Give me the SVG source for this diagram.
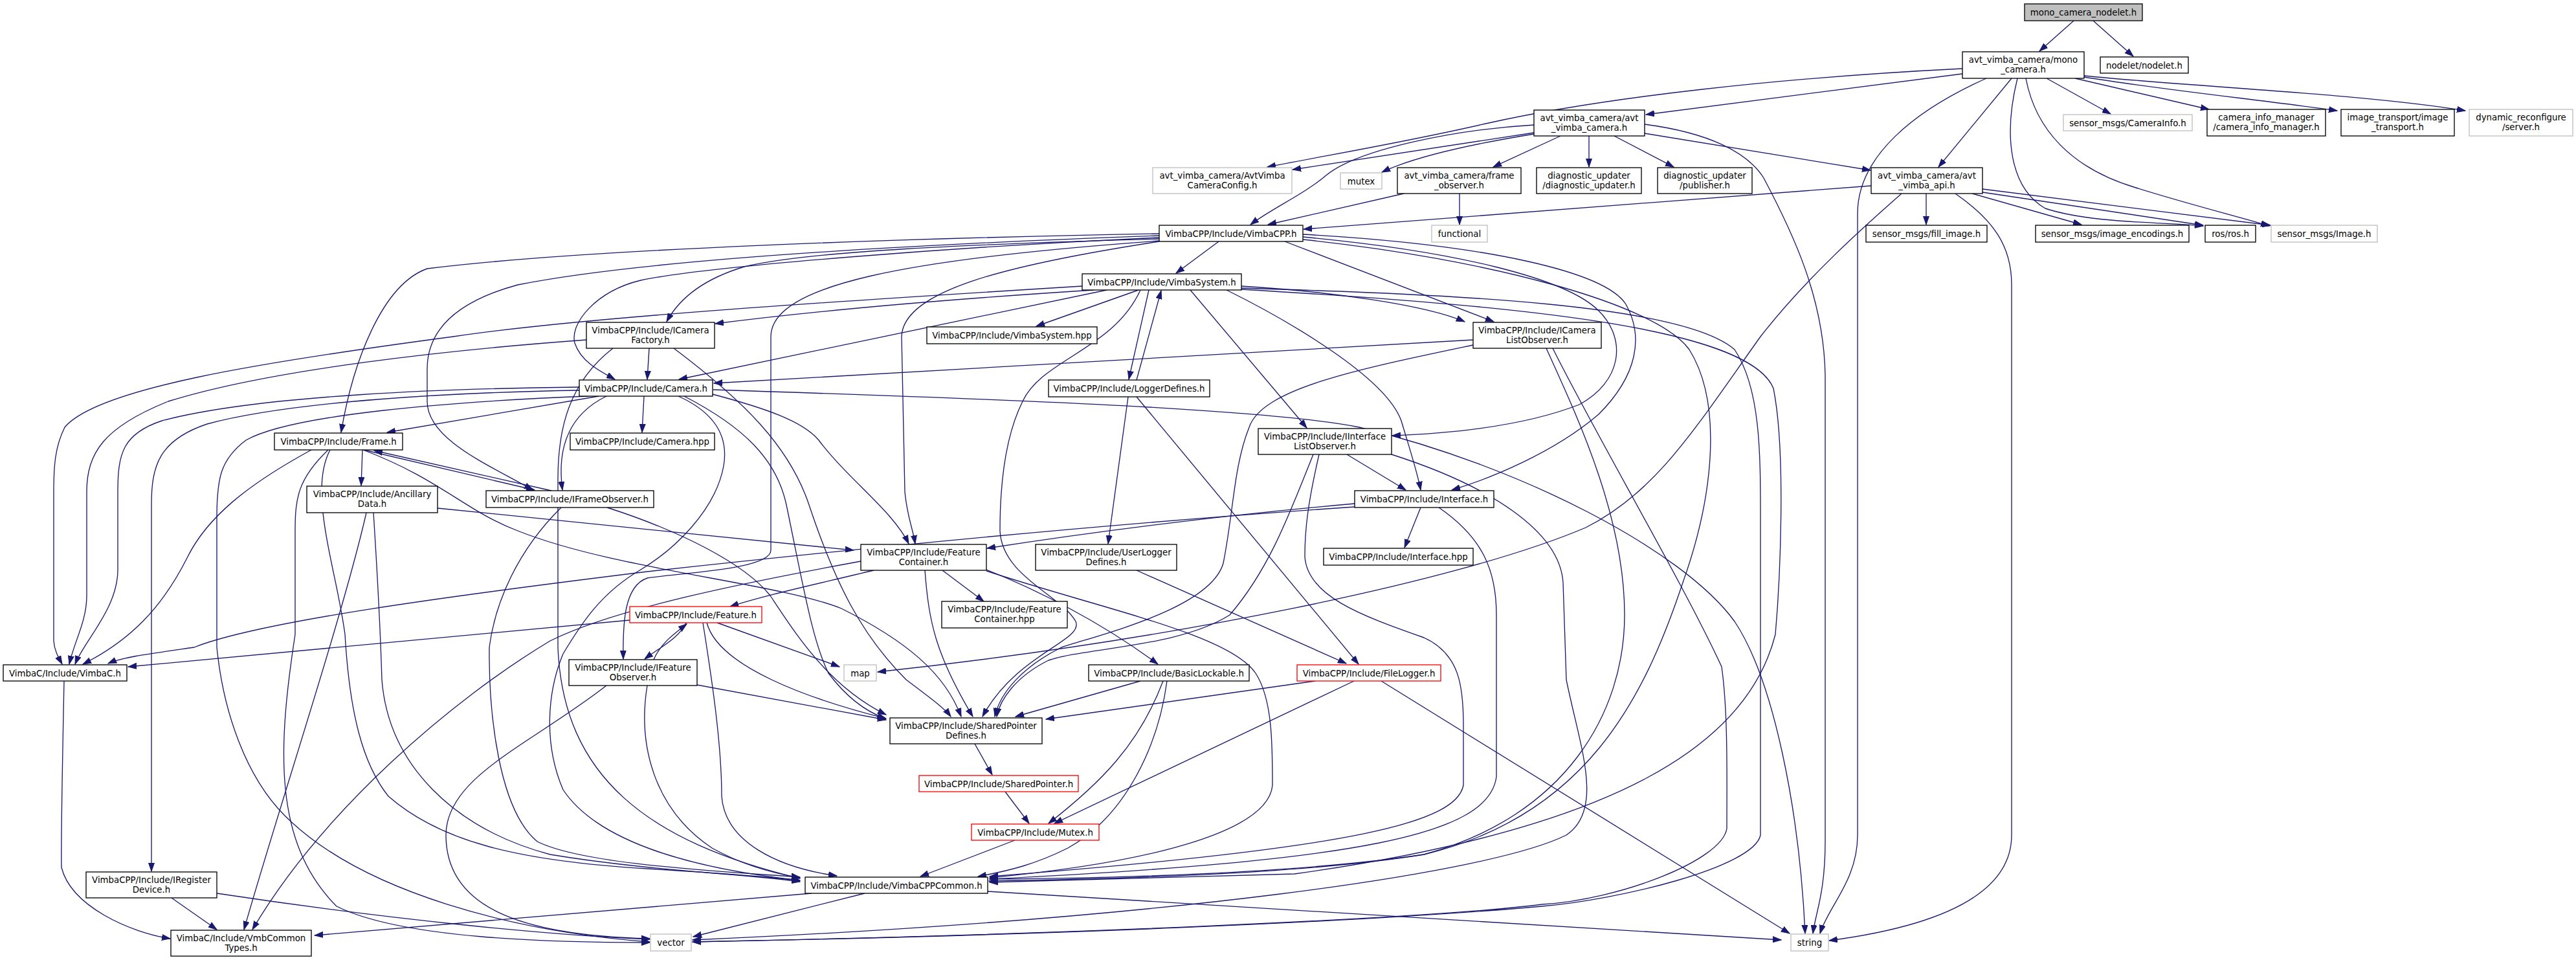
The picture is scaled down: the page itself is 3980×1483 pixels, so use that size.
<svg xmlns="http://www.w3.org/2000/svg" width="3980" height="1483" viewBox="0 0 3980 1483">
<defs>
<marker id="ah" markerUnits="userSpaceOnUse" markerWidth="14" markerHeight="10" refX="13" refY="5" orient="auto"><path d="M0,0.5 L13,5 L0,9.5 z" fill="#191970" stroke="#191970" stroke-width="1"/></marker>
<style>
.n rect{fill:#fff;stroke:#000;stroke-width:1.33}
.n.ext rect{stroke:#bfbfbf}
.n.red rect{stroke:#ff0000}
.n.gf rect{fill:#bfbfbf}
text{font-family:'DejaVu Sans','Liberation Sans',sans-serif;font-size:13.33px;text-anchor:middle;fill:#000}
#edges path{fill:none;stroke:#191970;stroke-width:1.33;marker-end:url(#ah)}
</style>
</defs>
<rect width="3980" height="1483" fill="#fff"/>
<g id="edges">
<path d="M3204,32 L3151,79"/>
<path d="M3234,32 L3296,87"/>
<path d="M3032,114 L2543,177"/>
<path d="M3032,106 C2750,120 2480,150 2300,190 C2170,220 2060,238 1958,258"/>
<path d="M3108,121 L2995,258"/>
<path d="M3069,121 C2960,170 2870,240 2870,330 L2870,1290 C2870,1360 2825,1400 2812,1442"/>
<path d="M3117,121 C3095,210 3105,290 3160,322 C3230,345 3340,343 3404,349"/>
<path d="M3130,121 C3145,200 3200,260 3300,290 C3390,318 3460,335 3506,349"/>
<path d="M3162,121 L3261,176"/>
<path d="M3206,121 L3413,169"/>
<path d="M3220,119 C3350,140 3500,155 3611,171"/>
<path d="M3220,117 C3400,135 3650,145 3809,171"/>
<path d="M2370,205 L1997,262"/>
<path d="M2370,193 C2250,200 2100,230 2050,270 C2015,300 1965,322 1932,347"/>
<path d="M2370,207 C2290,220 2190,240 2135,266"/>
<path d="M2411,210 L2307,258"/>
<path d="M2455,210 L2455,258"/>
<path d="M2494,210 L2586,258"/>
<path d="M2541,206 L2890,263"/>
<path d="M2541,192 C2640,205 2700,235 2725,275 C2770,360 2818,460 2820,580 L2820,1300 C2820,1380 2805,1410 2801,1442"/>
<path d="M2169,299 L1959,347"/>
<path d="M2255,299 L2255,347"/>
<path d="M2891,287 L2014,354"/>
<path d="M2976,299 L2976,347"/>
<path d="M3047,299 L3216,347"/>
<path d="M3063,297 L3404,348"/>
<path d="M3063,292 L3508,348"/>
<path d="M2938,299 C2880,350 2790,430 2720,520 C2620,660 2560,760 2450,815 C2250,900 1800,990 1356,1038"/>
<path d="M3021,299 C3080,340 3108,380 3108,440 L3108,1290 C3108,1380 3000,1430 2826,1453"/>
<path d="M1883,373 L1817,422"/>
<path d="M1791,361 C1400,368 900,385 660,415 C590,440 545,560 527,668"/>
<path d="M1791,364 C1400,378 1000,400 800,440 C690,470 660,520 660,570 L660,620 C660,680 760,720 823,757"/>
<path d="M1791,367 C1500,380 1100,410 990,433 C920,450 880,500 888,530 C898,560 930,575 950,586"/>
<path d="M1791,369 C1500,377 1250,388 1150,412 C1090,430 1050,460 1030,497"/>
<path d="M1791,372 C1400,400 1191,440 1191,520 L1191,850 C1191,880 1050,885 1000,893 C965,905 962,960 963,1018"/>
<path d="M1791,373 C1550,410 1395,450 1393,520 L1398,760 C1402,800 1410,815 1414,840"/>
<path d="M1985,373 L2308,497"/>
<path d="M2013,362 C2300,378 2480,420 2512,470 C2540,520 2530,580 2470,640 C2400,700 2300,740 2243,757"/>
<path d="M2013,366 C2250,388 2420,430 2470,480 C2515,525 2505,590 2440,625 C2350,660 2230,670 2151,673"/>
<path d="M2013,370 C2300,400 2560,470 2610,540 C2660,620 2650,760 2600,900 C2540,1080 2450,1260 2200,1320 C2000,1352 1700,1358 1528,1361"/>
<path d="M1672,442 C1300,465 900,490 700,520 C400,560 150,600 100,660 C85,690 83,720 83,760 L83,990 C84,1005 90,1015 96,1026"/>
<path d="M1690,448 C1500,460 1300,475 1105,500"/>
<path d="M1710,448 L1049,586"/>
<path d="M1759,448 L1601,504"/>
<path d="M1775,448 L1744,586"/>
<path d="M1756,587 L1794,449"/>
<path d="M1839,448 L2019,661"/>
<path d="M1895,448 C1980,490 2140,580 2165,650 C2180,700 2190,730 2195,757"/>
<path d="M1918,442 C2050,450 2200,470 2263,497"/>
<path d="M1762,448 C1720,540 1610,555 1580,620 C1550,680 1545,760 1545,820 C1548,890 1640,920 1662,960 C1675,990 1570,1010 1518,1107"/>
<path d="M1918,445 C2250,455 2600,470 2680,540 C2720,600 2720,700 2720,800 L2720,1290 C2710,1340 2500,1390 2383,1400 C2100,1425 1600,1445 1070,1455"/>
<path d="M1918,447 C2300,470 2700,500 2740,600 C2760,700 2750,900 2743,980 C2700,1150 2500,1280 2000,1350 L1529,1363"/>
<path d="M1003,538 L1000,586"/>
<path d="M906,525 C700,540 420,570 260,620 C160,660 134,700 134,760 L134,920 C134,960 115,990 107,1026"/>
<path d="M1041,538 C1150,620 1220,690 1250,780 C1290,900 1330,980 1400,1050 C1440,1080 1460,1095 1469,1107"/>
<path d="M947,538 C880,590 862,660 862,740 L862,1000 C870,1200 1000,1300 1236,1357"/>
<path d="M925,612 L598,668"/>
<path d="M995,612 L992,668"/>
<path d="M937,612 C880,640 860,690 869,757"/>
<path d="M895,603 C700,606 450,620 320,655 C245,680 234,720 234,780 L234,1346"/>
<path d="M895,598 C700,600 400,610 250,650 C190,670 182,700 182,760 L182,880 C182,940 130,990 116,1026"/>
<path d="M910,612 C700,620 450,640 380,680 C340,710 335,740 335,800 L335,1000 C345,1100 380,1200 440,1260 C560,1380 800,1440 1004,1455"/>
<path d="M1101,609 C1180,630 1240,650 1265,680 C1310,740 1380,790 1404,840"/>
<path d="M1057,612 C1150,660 1200,710 1215,780 C1240,900 1255,990 1280,1040 C1310,1080 1340,1100 1368,1110"/>
<path d="M1048,612 C1110,640 1125,680 1118,720 C1105,790 1040,850 990,880 C930,915 900,960 870,1010 C845,1070 840,1150 870,1220 C930,1310 1100,1345 1236,1360"/>
<path d="M1102,602 C1500,615 1950,630 2100,660 C2350,720 2600,850 2680,960 C2740,1050 2780,1250 2789,1442"/>
<path d="M560,695 L558,750"/>
<path d="M562,695 L826,757"/>
<path d="M481,695 C380,750 320,800 290,860 C250,940 200,990 128,1026"/>
<path d="M507,695 C460,740 456,770 456,820 L456,980 C430,1150 420,1300 520,1400 C620,1450 850,1456 1004,1456"/>
<path d="M510,695 C475,760 520,880 533,980 C540,1100 560,1180 600,1230 C680,1300 800,1330 1000,1342 C1100,1348 1180,1354 1236,1360"/>
<path d="M561,695 C680,740 720,790 800,820 C950,880 1200,900 1300,940 C1400,990 1460,1040 1485,1107"/>
<path d="M852,758 L578,696"/>
<path d="M867,784 C800,850 765,930 756,1000 C755,1100 770,1250 830,1300 C900,1335 1100,1345 1236,1355"/>
<path d="M938,784 C1050,820 1150,870 1190,920 C1230,980 1280,1060 1369,1104"/>
<path d="M676,785 L1319,850"/>
<path d="M566,792 C530,950 430,1250 377,1436"/>
<path d="M577,792 C582,870 587,950 590,1050 C600,1180 700,1280 850,1320 C1000,1345 1150,1350 1236,1362"/>
<path d="M1456,881 L1520,929"/>
<path d="M1350,881 C1250,905 1180,920 1128,937"/>
<path d="M1524,880 C1600,910 1700,960 1789,1026"/>
<path d="M1524,882 C1700,940 1900,980 1940,1040 C1966,1080 1966,1150 1966,1213 C1960,1280 1800,1330 1529,1356"/>
<path d="M1330,867 C1150,900 950,940 850,990 C700,1080 500,1250 390,1436"/>
<path d="M1429,881 C1435,960 1445,1010 1503,1107"/>
<path d="M973,958 L198,1030"/>
<path d="M1060,962 C1050,985 1020,1000 996,1018"/>
<path d="M1010,1019 C1020,995 1040,980 1061,964"/>
<path d="M1108,962 L1297,1030"/>
<path d="M1086,962 C1100,1050 1115,1150 1115,1230 C1120,1300 1200,1340 1293,1353"/>
<path d="M1092,962 C1110,1030 1250,1080 1369,1110"/>
<path d="M1077,1058 L1369,1112"/>
<path d="M1000,1059 C985,1150 1010,1250 1100,1310 C1150,1338 1200,1350 1236,1356"/>
<path d="M937,1059 C820,1150 689,1200 689,1290 C689,1400 800,1445 1004,1450"/>
<path d="M1762,1052 L1569,1107"/>
<path d="M1797,1052 C1760,1150 1700,1210 1620,1272"/>
<path d="M1803,1052 C1790,1150 1740,1260 1650,1310 C1600,1335 1560,1345 1511,1354"/>
<path d="M2032,1052 L1616,1111"/>
<path d="M2092,1052 L1629,1272"/>
<path d="M2134,1052 L2765,1442"/>
<path d="M1506,1149 L1533,1197"/>
<path d="M1553,1223 L1590,1272"/>
<path d="M1568,1298 L1422,1354"/>
<path d="M1336,1380 L1071,1447"/>
<path d="M1254,1380 L486,1445"/>
<path d="M1526,1377 L2752,1452"/>
<path d="M99,1052 C97,1150 94,1300 95,1340 C110,1400 200,1440 263,1450"/>
<path d="M265,1387 L335,1436"/>
<path d="M335,1380 C600,1420 850,1445 1004,1451"/>
<path d="M1743,613 L1712,840"/>
<path d="M1756,613 L2099,1026"/>
<path d="M1756,881 L2080,1025"/>
<path d="M2276,525 L1103,592"/>
<path d="M2276,533 C2100,570 1950,600 1930,660 C1906,720 1906,790 1890,870 C1870,940 1700,980 1640,1000 C1580,1030 1545,1070 1537,1107"/>
<path d="M2389,538 C2440,650 2510,800 2510,950 C2510,1100 2420,1260 2200,1320 C2000,1350 1700,1357 1529,1358"/>
<path d="M2399,538 C2470,680 2600,900 2660,1030 C2670,1100 2668,1200 2668,1280 C2660,1330 2500,1390 2383,1397 C2200,1420 1600,1445 1070,1455"/>
<path d="M2081,702 L2172,757"/>
<path d="M2038,702 C2020,780 2016,820 2016,860 C2020,920 2100,950 2200,985 C2255,1010 2261,1060 2261,1120 L2261,1213 C2250,1270 2100,1310 1529,1354"/>
<path d="M2150,702 C2300,750 2410,820 2415,900 L2420,1050 C2440,1150 2480,1250 2420,1290 C2300,1350 1800,1420 1070,1452"/>
<path d="M2029,702 C1990,800 1960,880 1900,950 C1820,1000 1680,1000 1620,1020 C1570,1045 1545,1080 1540,1107"/>
<path d="M2195,784 L2170,846"/>
<path d="M2093,778 C1900,795 1700,820 1525,847"/>
<path d="M2093,783 C1700,810 1300,850 1000,883 C700,920 400,960 300,1000 C230,1010 190,1015 167,1025"/>
<path d="M2223,784 C2290,830 2312,880 2312,950 L2312,1200 C2300,1290 2100,1330 1529,1358"/>
</g>
<g id="n_top" class="n gf"><rect x="3128" y="6" width="182" height="26"/><text x="3219" y="23.5">mono_camera_nodelet.h</text></g>
<g id="n_mono" class="n"><rect x="3032" y="80" width="188" height="41"/><text x="3126" y="96.5">avt_vimba_camera/mono</text><text x="3126" y="111.5">_camera.h</text></g>
<g id="n_nodelet" class="n"><rect x="3245" y="88" width="136" height="25"/><text x="3313" y="105.5">nodelet/nodelet.h</text></g>
<g id="n_avtcam" class="n"><rect x="2370" y="170" width="171" height="40"/><text x="2455.5" y="186.5">avt_vimba_camera/avt</text><text x="2455.5" y="201.5">_vimba_camera.h</text></g>
<g id="n_cfg" class="n ext"><rect x="1781" y="259" width="215" height="40"/><text x="1888.5" y="275.5">avt_vimba_camera/AvtVimba</text><text x="1888.5" y="290.5">CameraConfig.h</text></g>
<g id="n_mutex" class="n ext"><rect x="2071" y="267" width="64" height="25"/><text x="2103" y="284.5">mutex</text></g>
<g id="n_frobs" class="n"><rect x="2159" y="259" width="191" height="40"/><text x="2254.5" y="275.5">avt_vimba_camera/frame</text><text x="2254.5" y="290.5">_observer.h</text></g>
<g id="n_diag" class="n"><rect x="2374" y="259" width="162" height="40"/><text x="2455" y="275.5">diagnostic_updater</text><text x="2455" y="290.5">/diagnostic_updater.h</text></g>
<g id="n_pub" class="n"><rect x="2561" y="259" width="146" height="40"/><text x="2634" y="275.5">diagnostic_updater</text><text x="2634" y="290.5">/publisher.h</text></g>
<g id="n_api" class="n"><rect x="2891" y="259" width="172" height="40"/><text x="2977" y="275.5">avt_vimba_camera/avt</text><text x="2977" y="290.5">_vimba_api.h</text></g>
<g id="n_caminfo" class="n ext"><rect x="3188" y="177" width="199" height="25"/><text x="3287.5" y="194.5">sensor_msgs/CameraInfo.h</text></g>
<g id="n_cim" class="n"><rect x="3410" y="169" width="183" height="41"/><text x="3501.5" y="185.5">camera_info_manager</text><text x="3501.5" y="200.5">/camera_info_manager.h</text></g>
<g id="n_it" class="n"><rect x="3617" y="169" width="175" height="41"/><text x="3704.5" y="185.5">image_transport/image</text><text x="3704.5" y="200.5">_transport.h</text></g>
<g id="n_dr" class="n ext"><rect x="3815" y="169" width="160" height="41"/><text x="3895" y="185.5">dynamic_reconfigure</text><text x="3895" y="200.5">/server.h</text></g>
<g id="n_vcpp" class="n"><rect x="1791" y="348" width="222" height="25"/><text x="1902" y="365.5">VimbaCPP/Include/VimbaCPP.h</text></g>
<g id="n_functional" class="n ext"><rect x="2212" y="348" width="86" height="26"/><text x="2255" y="365.5">functional</text></g>
<g id="n_fill" class="n"><rect x="2883" y="348" width="187" height="26"/><text x="2976.5" y="365.5">sensor_msgs/fill_image.h</text></g>
<g id="n_enc" class="n"><rect x="3145" y="348" width="237" height="26"/><text x="3263.5" y="365.5">sensor_msgs/image_encodings.h</text></g>
<g id="n_ros" class="n"><rect x="3407" y="348" width="78" height="26"/><text x="3446" y="365.5">ros/ros.h</text></g>
<g id="n_img" class="n ext"><rect x="3509" y="348" width="164" height="26"/><text x="3591" y="365.5">sensor_msgs/Image.h</text></g>
<g id="n_vsys" class="n"><rect x="1672" y="423" width="246" height="25"/><text x="1795" y="440.5">VimbaCPP/Include/VimbaSystem.h</text></g>
<g id="n_icf" class="n"><rect x="906" y="498" width="198" height="40"/><text x="1005" y="514.5">VimbaCPP/Include/ICamera</text><text x="1005" y="529.5">Factory.h</text></g>
<g id="n_vsyshpp" class="n"><rect x="1432" y="505" width="263" height="26"/><text x="1563.5" y="522.5">VimbaCPP/Include/VimbaSystem.hpp</text></g>
<g id="n_iclo" class="n"><rect x="2276" y="498" width="198" height="40"/><text x="2375" y="514.5">VimbaCPP/Include/ICamera</text><text x="2375" y="529.5">ListObserver.h</text></g>
<g id="n_cam" class="n"><rect x="895" y="587" width="206" height="25"/><text x="998" y="604.5">VimbaCPP/Include/Camera.h</text></g>
<g id="n_log" class="n"><rect x="1620" y="587" width="249" height="26"/><text x="1744.5" y="604.5">VimbaCPP/Include/LoggerDefines.h</text></g>
<g id="n_iilo" class="n"><rect x="1944" y="662" width="206" height="40"/><text x="2047" y="678.5">VimbaCPP/Include/IInterface</text><text x="2047" y="693.5">ListObserver.h</text></g>
<g id="n_frame" class="n"><rect x="424" y="669" width="198" height="26"/><text x="523" y="686.5">VimbaCPP/Include/Frame.h</text></g>
<g id="n_camhpp" class="n"><rect x="881" y="669" width="223" height="26"/><text x="992.5" y="686.5">VimbaCPP/Include/Camera.hpp</text></g>
<g id="n_anc" class="n"><rect x="474" y="751" width="202" height="41"/><text x="575" y="767.5">VimbaCPP/Include/Ancillary</text><text x="575" y="782.5">Data.h</text></g>
<g id="n_ifo" class="n"><rect x="751" y="758" width="259" height="26"/><text x="880.5" y="775.5">VimbaCPP/Include/IFrameObserver.h</text></g>
<g id="n_iface" class="n"><rect x="2093" y="758" width="215" height="26"/><text x="2200.5" y="775.5">VimbaCPP/Include/Interface.h</text></g>
<g id="n_fc" class="n"><rect x="1330" y="841" width="194" height="40"/><text x="1427" y="857.5">VimbaCPP/Include/Feature</text><text x="1427" y="872.5">Container.h</text></g>
<g id="n_ulog" class="n"><rect x="1600" y="841" width="218" height="40"/><text x="1709" y="857.5">VimbaCPP/Include/UserLogger</text><text x="1709" y="872.5">Defines.h</text></g>
<g id="n_ifacehpp" class="n"><rect x="2045" y="847" width="231" height="26"/><text x="2160.5" y="864.5">VimbaCPP/Include/Interface.hpp</text></g>
<g id="n_fchpp" class="n"><rect x="1455" y="929" width="194" height="41"/><text x="1552" y="945.5">VimbaCPP/Include/Feature</text><text x="1552" y="960.5">Container.hpp</text></g>
<g id="n_feat" class="n red"><rect x="973" y="937" width="204" height="25"/><text x="1075" y="954.5">VimbaCPP/Include/Feature.h</text></g>
<g id="n_vimbac" class="n"><rect x="5" y="1027" width="191" height="25"/><text x="100.5" y="1044.5">VimbaC/Include/VimbaC.h</text></g>
<g id="n_ifeatobs" class="n"><rect x="879" y="1019" width="198" height="40"/><text x="978" y="1035.5">VimbaCPP/Include/IFeature</text><text x="978" y="1050.5">Observer.h</text></g>
<g id="n_map" class="n ext"><rect x="1304" y="1027" width="50" height="25"/><text x="1329" y="1044.5">map</text></g>
<g id="n_basic" class="n"><rect x="1682" y="1027" width="248" height="25"/><text x="1806" y="1044.5">VimbaCPP/Include/BasicLockable.h</text></g>
<g id="n_flog" class="n red"><rect x="2004" y="1027" width="222" height="25"/><text x="2115" y="1044.5">VimbaCPP/Include/FileLogger.h</text></g>
<g id="n_spd" class="n"><rect x="1375" y="1109" width="235" height="40"/><text x="1492.5" y="1125.5">VimbaCPP/Include/SharedPointer</text><text x="1492.5" y="1140.5">Defines.h</text></g>
<g id="n_sp" class="n red"><rect x="1420" y="1198" width="246" height="25"/><text x="1543" y="1215.5">VimbaCPP/Include/SharedPointer.h</text></g>
<g id="n_mutexh" class="n red"><rect x="1501" y="1273" width="197" height="25"/><text x="1599.5" y="1290.5">VimbaCPP/Include/Mutex.h</text></g>
<g id="n_ireg" class="n"><rect x="133" y="1347" width="202" height="40"/><text x="234" y="1363.5">VimbaCPP/Include/IRegister</text><text x="234" y="1378.5">Device.h</text></g>
<g id="n_vcppc" class="n"><rect x="1244" y="1355" width="282" height="25"/><text x="1385" y="1372.5">VimbaCPP/Include/VimbaCPPCommon.h</text></g>
<g id="n_vmbct" class="n"><rect x="264" y="1437" width="217" height="40"/><text x="372.5" y="1453.5">VimbaC/Include/VmbCommon</text><text x="372.5" y="1468.5">Types.h</text></g>
<g id="n_vector" class="n ext"><rect x="1005" y="1443" width="63" height="26"/><text x="1036.5" y="1460.5">vector</text></g>
<g id="n_string" class="n ext"><rect x="2767" y="1443" width="58" height="26"/><text x="2796" y="1460.5">string</text></g>
</svg>
